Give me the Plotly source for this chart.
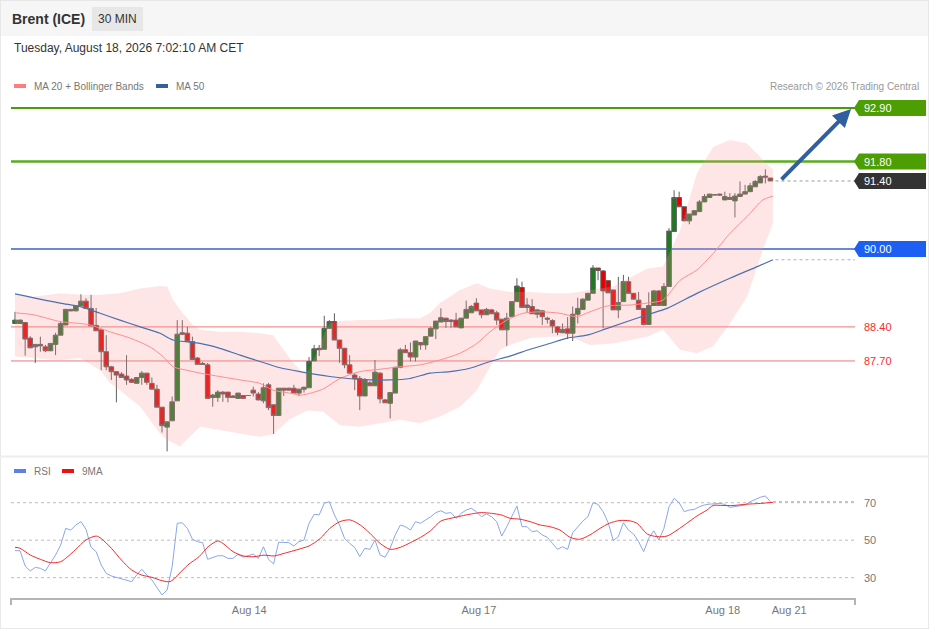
import plotly.graph_objects as go

W, H = 929, 629


def px(x):
    return x / W


def py(y):
    return 1 - y / H


# ---------------- data ----------------
opens = [88.47, 88.47, 88.49, 88.17, 87.99, 88.04, 87.99, 87.91, 88.04, 88.23,
         88.44, 88.76, 88.73, 88.83, 88.93, 88.78, 88.43, 88.34, 87.89, 87.58,
         87.48, 87.43, 87.39, 87.32, 87.24, 87.36, 87.45, 87.24, 87.12, 86.75,
         86.34, 86.47, 86.88, 88.28, 88.27, 88.10, 87.76, 87.65, 87.62, 86.95,
         86.95, 87.06, 87.06, 86.98, 86.93, 86.99, 86.99, 87.10, 87.02, 86.88,
         87.21, 86.80, 86.58, 87.14, 87.14, 87.14, 87.04, 87.12, 87.15, 87.70,
         87.96, 87.94, 88.37, 88.51, 88.13, 87.96, 87.62, 87.41, 87.34, 86.98,
         87.25, 87.19, 87.45, 86.90, 86.83, 87.04, 87.57, 87.93, 87.87, 87.78,
         88.08, 88.03, 88.21, 88.36, 88.50, 88.58, 88.54, 88.54, 88.38, 88.58,
         88.69, 88.89, 88.75, 88.65, 88.75, 88.69, 88.56, 88.34, 88.61, 88.92,
         89.21, 88.85, 88.82, 88.66, 88.73, 88.58, 88.53, 88.40, 88.28, 88.36,
         88.27, 88.66, 88.76, 88.95, 89.09, 89.61, 89.55, 89.35, 89.16, 88.75,
         88.92, 89.33, 89.09, 88.95, 88.78, 88.45, 88.84, 89.14, 88.84, 89.23,
         90.36, 91.06, 90.87, 90.58, 90.70, 90.77, 90.97, 91.06, 91.11, 91.13,
         91.01, 91.06, 90.99, 91.08, 91.13, 91.18, 91.28, 91.36, 91.50, 91.46]

highs = [88.71, 88.55, 88.50, 88.21, 88.05, 88.20, 88.03, 88.07, 88.28, 88.51,
         88.77, 88.77, 88.83, 89.07, 88.99, 89.06, 88.79, 88.34, 88.23, 87.60,
         87.49, 87.47, 87.82, 87.35, 87.37, 87.49, 87.45, 87.36, 87.21, 86.75,
         86.45, 86.97, 88.54, 88.54, 88.40, 88.20, 87.78, 87.68, 87.66, 87.02,
         87.10, 87.08, 87.06, 87.00, 87.04, 87.00, 87.00, 87.17, 87.06, 87.24,
         87.25, 86.80, 87.14, 87.14, 87.15, 87.21, 87.13, 87.17, 87.78, 88.03,
         88.03, 88.63, 88.54, 88.68, 88.13, 87.97, 87.82, 87.45, 87.39, 87.35,
         87.29, 87.72, 87.47, 86.92, 87.06, 87.58, 87.97, 88.03, 88.08, 88.11,
         88.09, 88.21, 88.40, 88.52, 88.78, 88.58, 88.56, 88.69, 88.58, 88.94,
         88.85, 88.99, 88.75, 88.79, 88.77, 88.73, 88.56, 88.69, 88.92, 89.40,
         89.33, 88.99, 88.97, 88.77, 88.75, 88.61, 88.56, 88.42, 88.47, 88.60,
         88.82, 89.00, 88.99, 89.10, 89.67, 89.61, 89.57, 89.36, 89.16, 89.43,
         89.47, 89.43, 89.10, 89.12, 88.79, 89.11, 89.16, 89.16, 89.30, 90.43,
         91.21, 91.18, 90.87, 90.72, 90.80, 91.01, 91.13, 91.13, 91.13, 91.14,
         91.18, 91.15, 91.15, 91.39, 91.32, 91.36, 91.42, 91.52, 91.64, 91.46]

lows = [88.46, 88.46, 87.81, 87.97, 87.66, 87.89, 87.88, 87.90, 87.82, 88.23,
        88.44, 88.72, 88.72, 88.83, 88.78, 88.42, 88.32, 87.51, 87.51, 87.31,
        86.85, 87.35, 87.21, 87.25, 87.24, 87.21, 87.21, 87.12, 86.75, 86.23,
        85.84, 86.47, 86.88, 88.23, 88.10, 87.72, 87.63, 87.62, 86.93, 86.76,
        86.86, 86.86, 86.85, 86.94, 86.93, 86.93, 86.98, 86.97, 86.89, 86.83,
        86.69, 86.20, 86.58, 86.98, 87.10, 87.04, 86.98, 87.05, 87.15, 87.70,
        87.80, 87.94, 88.37, 88.13, 87.66, 87.55, 87.45, 87.10, 86.69, 86.98,
        87.19, 87.19, 86.83, 86.84, 86.52, 87.04, 87.55, 87.87, 87.69, 87.69,
        87.93, 87.93, 88.21, 88.15, 88.50, 88.38, 88.38, 88.40, 88.38, 88.58,
        88.69, 88.73, 88.58, 88.65, 88.67, 88.44, 88.34, 88.01, 88.61, 88.92,
        88.80, 88.69, 88.67, 88.58, 88.44, 88.47, 88.27, 88.23, 88.28, 88.15,
        88.11, 88.47, 88.76, 88.95, 89.09, 89.36, 88.37, 89.10, 88.75, 88.58,
        88.92, 89.09, 88.97, 88.76, 88.43, 88.45, 88.84, 88.84, 88.84, 89.23,
        90.36, 90.87, 90.58, 90.51, 90.70, 90.77, 90.97, 91.06, 91.10, 91.10,
        91.01, 91.01, 90.65, 91.08, 91.13, 91.18, 91.28, 91.36, 91.35, 91.40]

closes = [88.54, 88.54, 88.15, 87.97, 88.04, 88.01, 87.91, 88.06, 88.23, 88.47,
          88.76, 88.73, 88.83, 88.93, 88.78, 88.42, 88.32, 87.89, 87.58, 87.48,
          87.41, 87.36, 87.31, 87.26, 87.36, 87.45, 87.26, 87.12, 86.75, 86.37,
          86.45, 86.86, 88.25, 88.25, 88.10, 87.73, 87.63, 87.63, 86.93, 87.00,
          87.06, 87.02, 86.95, 86.95, 87.04, 86.93, 86.99, 87.04, 86.90, 87.15,
          86.74, 86.58, 87.14, 87.10, 87.10, 87.04, 87.12, 87.16, 87.69, 87.95,
          87.93, 88.37, 88.51, 88.13, 87.96, 87.62, 87.45, 87.34, 86.98, 87.31,
          87.19, 87.47, 86.92, 86.84, 87.05, 87.57, 87.93, 87.87, 87.78, 88.11,
          88.03, 88.20, 88.37, 88.52, 88.59, 88.51, 88.51, 88.40, 88.58, 88.76,
          88.82, 88.73, 88.65, 88.76, 88.67, 88.54, 88.34, 88.58, 88.92, 89.24,
          88.80, 88.80, 88.67, 88.75, 88.61, 88.56, 88.42, 88.29, 88.35, 88.27,
          88.66, 88.78, 88.97, 89.09, 89.61, 89.56, 89.14, 89.10, 88.75, 88.90,
          89.33, 89.09, 88.97, 88.76, 88.45, 88.84, 89.14, 88.84, 89.23, 90.37,
          91.06, 90.87, 90.58, 90.72, 90.79, 90.97, 91.08, 91.13, 91.12, 91.11,
          91.08, 91.02, 91.09, 91.13, 91.18, 91.30, 91.39, 91.49, 91.48, 91.40]

# MA 20 (sampled along the bars)
ma20_idx = [0, 3.6, 8.9, 12.8, 14.8, 18.7, 22.7, 26.6, 29.2, 31.2, 33.9, 36.5, 40.4,
            44.4, 48.3, 50.9, 54.2, 56.2, 57.6, 60.7, 64.1, 68, 72, 75.9, 79.9, 83.8,
            87.8, 91.1, 93.7, 97, 100.2, 103.6, 107.5, 110.8, 113.4, 116.8, 121.3,
            124.7, 127.8, 131.2, 134.5, 137.7, 141, 144.4, 147.5, 149.5]
ma20 = [88.69, 88.65, 88.51, 88.47, 88.44, 88.30, 88.17, 87.99, 87.79, 87.58, 87.51,
        87.45, 87.38, 87.31, 87.24, 87.10, 87.04, 87.00, 87.02, 87.12, 87.34, 87.48,
        87.53, 87.58, 87.62, 87.72, 87.86, 88.06, 88.30, 88.54, 88.68, 88.71, 88.68,
        88.61, 88.71, 88.83, 88.85, 88.89, 88.95, 89.36, 89.57, 89.91, 90.32, 90.67,
        91.01, 91.09]

# MA 50
ma50_idx = [0, 8.9, 12.8, 16.8, 20.7, 24.7, 28.6, 31.2, 36.5, 40.4, 44.4, 48.3, 52.3,
            56.2, 62.1, 68, 73.9, 77.9, 81.9, 85.8, 89.7, 93.7, 97.6, 101.6, 105.5,
            108.9, 112.8, 116.8, 124.7, 128.6, 134.5, 141, 146.4, 149.5]
ma50 = [89.08, 88.89, 88.82, 88.68, 88.54, 88.40, 88.27, 88.13, 88.06, 87.96, 87.82,
        87.69, 87.56, 87.48, 87.38, 87.32, 87.31, 87.34, 87.45, 87.48, 87.55, 87.69,
        87.80, 87.94, 88.06, 88.17, 88.23, 88.37, 88.65, 88.78, 89.09, 89.40, 89.64,
        89.78]

# Bollinger bands
bb_upper_idx = [0, 3.6, 8.9, 12.8, 16.8, 20.7, 24.7, 28.6, 30, 31.2, 33.1, 35.1, 36.5,
                40.4, 44.4, 48.3, 50.9, 52.9, 54.8, 56.8, 58, 59, 60, 61, 62, 64.1, 68,
                72, 75.9, 79.9, 81.9, 83.8, 87.8, 91.1, 93.7, 97.6, 101.6, 105.5, 109.5,
                113.4, 118, 124.7, 127.8, 131.2, 134.5, 137.7, 141, 144.4, 147.5, 149.5]
bb_upper = [89.06, 89.02, 89.09, 89.06, 89.06, 89.09, 89.19, 89.24, 89.23, 88.95, 88.68,
            88.44, 88.34, 88.30, 88.30, 88.27, 88.23, 87.94, 87.67, 87.47, 87.51, 87.76,
            87.97, 88.27, 88.47, 88.52, 88.54, 88.54, 88.58, 88.58, 88.69, 88.89, 89.16,
            89.30, 89.19, 89.12, 89.12, 89.09, 89.09, 89.16, 89.23, 89.60, 89.64, 90.39,
            91.56, 92.10, 92.24, 92.17, 91.83, 91.63]
bb_lower_idx = [0, 3.6, 8.9, 12.8, 16.8, 18.7, 20.7, 24.7, 28.6, 30, 32.5, 36.5, 40.4,
                44.4, 48.3, 50.9, 54.2, 57.6, 60.7, 64.1, 68, 72, 75.9, 79.9, 83.8, 87.8,
                91.1, 93.7, 95.7, 97.6, 101.6, 105.5, 109.5, 113.4, 118, 124.7, 127.8,
                131.2, 134.5, 137.7, 141, 144.4, 147.5, 149.5]
bb_lower = [87.79, 87.76, 87.72, 87.76, 87.51, 87.25, 87.10, 86.76, 86.21, 86.08, 85.94,
            86.35, 86.28, 86.21, 86.14, 86.19, 86.50, 86.68, 86.66, 86.38, 86.35, 86.42,
            86.49, 86.42, 86.56, 86.76, 87.10, 87.58, 87.93, 88.03, 88.17, 88.20, 88.20,
            88.03, 88.06, 88.20, 88.34, 87.93, 87.86, 88.00, 88.47, 89.02, 89.98, 90.53]

# RSI (one value per bar)
rsi = [44.4, 44.4, 36.2, 33.6, 35.5, 35.0, 33.6, 37.7, 42.1, 47.4,
       56.3, 55.4, 58.1, 59.9, 55.8, 46.2, 43.9, 36.8, 32.3, 30.9,
       30.2, 29.7, 28.8, 27.9, 31.4, 34.5, 31.4, 28.8, 24.7, 20.8,
       23.4, 35.9, 59.0, 59.3, 56.3, 50.5, 49.2, 48.7, 39.8, 40.7,
       41.7, 41.7, 40.3, 40.3, 42.5, 40.9, 41.9, 42.6, 40.3, 46.5,
       39.8, 37.3, 48.9, 49.0, 48.7, 46.9, 49.2, 50.1, 59.0, 63.8,
       63.5, 69.7, 70.5, 63.5, 58.1, 51.0, 48.3, 46.2, 41.2, 45.7,
       45.1, 50.1, 42.1, 40.9, 45.7, 52.8, 58.1, 57.2, 55.4, 59.9,
       59.0, 60.8, 62.5, 64.7, 65.7, 64.3, 64.7, 61.7, 64.3, 66.1,
       67.0, 65.2, 62.5, 64.0, 62.5, 59.9, 52.2, 57.2, 62.5, 68.2,
       57.2, 57.2, 54.5, 55.0, 52.8, 51.5, 48.3, 45.1, 46.5, 45.1,
       54.0, 57.2, 60.2, 62.5, 70.0, 69.1, 65.2, 59.3, 49.8, 51.9,
       59.3, 55.4, 53.3, 49.2, 43.9, 51.0, 55.0, 50.1, 56.3, 67.9,
       72.3, 70.0, 65.2, 66.1, 66.4, 67.9, 68.8, 69.2, 69.6, 69.6,
       69.1, 67.5, 67.9, 68.5, 68.8, 70.5, 71.8, 72.9, 73.6, 70.5]

# RSI 9MA (sampled)
rsi_ma_idx = [0, 1, 3, 5, 7, 9, 10, 12, 14, 16, 17, 19, 21, 23, 25, 27, 29, 30.6, 32.1,
              34.1, 36.3, 38.1, 40, 41, 43, 45, 47.1, 49.1, 51.1, 53.1, 55, 57, 58, 60.2,
              62.1, 64.1, 66.1, 68.1, 70, 72, 74, 76, 78, 80, 82, 84, 86, 88, 90, 92, 94,
              96, 97.6, 99.6, 101.6, 103.6, 105.5, 107.5, 109.5, 111.4, 113.4, 115.4,
              117.2, 119.3, 121.3, 122.7, 124.7, 126.6, 128.6, 130.6, 132.5, 134.5,
              136.5, 137.7, 139.6, 141.6, 144.4, 147, 149.5]
rsi_ma = [46.2, 45.7, 42.1, 39.8, 38.0, 38.5, 40.3, 45.1, 50.1, 52.2, 50.9, 45.7, 39.4,
          34.1, 31.4, 30.2, 28.4, 27.9, 31.4, 36.8, 41.2, 46.5, 49.6, 48.3, 43.9, 41.6,
          41.2, 42.0, 41.6, 43.0, 44.4, 46.0, 46.9, 50.9, 56.3, 59.9, 60.8, 58.1, 53.7,
          48.3, 45.1, 46.2, 48.7, 51.5, 55.1, 60.2, 61.7, 62.9, 64.0, 64.7, 64.3, 63.4,
          61.7, 61.2, 59.9, 58.1, 57.2, 55.4, 51.5, 50.5, 52.8, 56.3, 59.0, 60.5, 60.3,
          59.0, 53.3, 51.9, 52.2, 55.4, 59.0, 62.9, 66.1, 68.5, 68.5, 68.5, 69.2, 69.6,
          70.2]

# key levels
level_values = [92.90, 91.80, 91.40, 90.00, 88.40, 87.70]
level_labels = ["92.90", "91.80", "91.40", "90.00", "88.40", "87.70"]
rsi_levels = [70, 50, 30]
date_tick_idx = [46.2, 91.5, 139.6, 152.7]
date_tick_text = ["Aug 14", "Aug 17", "Aug 18", "Aug 21"]

# ---------------- figure ----------------
FONT = "Liberation Sans, Arial, sans-serif"
idx = list(range(len(opens)))
x_min, x_max = -0.79, 165.68

fig = go.Figure()

band_x = bb_upper_idx + bb_lower_idx[::-1]
band_y = bb_upper + bb_lower[::-1]
fig.add_trace(go.Scatter(x=band_x, y=band_y, mode="lines", fill="toself",
                         fillcolor="rgba(250,150,150,0.24)", line=dict(width=0),
                         hoverinfo="skip"))
fig.add_trace(go.Scatter(x=ma20_idx, y=ma20, mode="lines",
                         line=dict(color="#ff8d8d", width=1, shape="spline", smoothing=0.7)))
fig.add_trace(go.Scatter(x=ma50_idx, y=ma50, mode="lines",
                         line=dict(color="#4b70ae", width=1.2, shape="spline", smoothing=0.7)))
fig.add_trace(go.Candlestick(
    x=idx, open=opens, high=highs, low=lows, close=closes,
    increasing=dict(line=dict(color="#5e5e5e", width=1), fillcolor="#1e7a1e"),
    decreasing=dict(line=dict(color="#5e5e5e", width=1), fillcolor="#e80000"),
    whiskerwidth=0, hoverinfo="skip"))

fig.add_trace(go.Scatter(x=idx, y=rsi, mode="lines", xaxis="x", yaxis="y2",
                         line=dict(color="#8aa6ea", width=1)))
fig.add_trace(go.Scatter(x=rsi_ma_idx, y=rsi_ma, mode="lines", xaxis="x", yaxis="y2",
                         line=dict(color="#f22a2a", width=1, shape="spline", smoothing=0.8)))

shapes = []
annotations = []

# header
shapes.append(dict(type="rect", xref="paper", yref="paper", x0=0, x1=1, y0=py(36), y1=1,
                   fillcolor="#f6f6f6", line=dict(width=0), layer="below"))
shapes.append(dict(type="rect", xref="paper", yref="paper", x0=px(92), x1=px(143),
                   y0=py(31), y1=py(7), fillcolor="#e7e7e7", line=dict(width=0)))
shapes.append(dict(type="rect", xref="paper", yref="paper", x0=0, x1=1, y0=0, y1=1,
                   line=dict(color="#e2e2e2", width=1.5)))
shapes.append(dict(type="line", xref="paper", yref="paper", x0=0, x1=1, y0=py(456.5),
                   y1=py(456.5), line=dict(color="#eeeeee", width=2)))

annotations += [
    dict(text="<b>Brent (ICE)</b>", x=px(10), y=py(19), xref="paper", yref="paper",
         xanchor="left", yanchor="middle", showarrow=False,
         font=dict(family=FONT, size=14, color="#333333")),
    dict(text="30 MIN", x=px(117.5), y=py(19), xref="paper", yref="paper",
         xanchor="center", yanchor="middle", showarrow=False,
         font=dict(family=FONT, size=12, color="#333333")),
    dict(text="Tuesday, August 18, 2026 7:02:10 AM CET", x=px(12), y=py(48), xref="paper",
         yref="paper", xanchor="left", yanchor="middle", showarrow=False,
         font=dict(family=FONT, size=12, color="#333333")),
    dict(text="MA 20 + Bollinger Bands", x=px(32), y=py(86), xref="paper", yref="paper",
         xanchor="left", yanchor="middle", showarrow=False,
         font=dict(family=FONT, size=10, color="#777777")),
    dict(text="MA 50", x=px(174), y=py(86), xref="paper", yref="paper",
         xanchor="left", yanchor="middle", showarrow=False,
         font=dict(family=FONT, size=10, color="#777777")),
    dict(text="Research © 2026 Trading Central", x=px(921), y=py(86), xref="paper",
         yref="paper", xanchor="right", yanchor="middle", showarrow=False,
         font=dict(family=FONT, size=10, color="#999999")),
    dict(text="RSI", x=px(32), y=py(471), xref="paper", yref="paper",
         xanchor="left", yanchor="middle", showarrow=False,
         font=dict(family=FONT, size=10, color="#777777")),
    dict(text="9MA", x=px(80), y=py(471), xref="paper", yref="paper",
         xanchor="left", yanchor="middle", showarrow=False,
         font=dict(family=FONT, size=10, color="#777777")),
]
for x0, x1, yy, col in [(14, 26, 86, "#ff7d7d"), (156, 168, 86, "#34609c"),
                        (14, 26, 471, "#5d80e2"), (62, 74, 471, "#ee1111")]:
    shapes.append(dict(type="rect", xref="paper", yref="paper", x0=px(x0), x1=px(x1),
                       y0=py(yy + 2), y1=py(yy - 2), fillcolor=col, line=dict(width=0)))

# level lines
line_styles = {
    "92.90": dict(color="#4c9a08", width=2),
    "91.80": dict(color="#5aab1e", width=2.4),
    "90.00": dict(color="#3a62c4", width=1.4),
    "88.40": dict(color="#f27474", width=1),
    "87.70": dict(color="#e77a7a", width=1),
}
for val, lab in zip(level_values, level_labels):
    if lab in line_styles:
        shapes.append(dict(type="line", xref="x domain", yref="y", x0=0, x1=1, y0=val,
                           y1=val, line=line_styles[lab], layer="below"))

# dotted extensions
last = len(closes) - 1
shapes.append(dict(type="line", xref="x", yref="y", x0=last + 1, x1=x_max,
                   y0=closes[-1], y1=closes[-1],
                   line=dict(color="#999999", width=1, dash="dot")))
shapes.append(dict(type="line", xref="x", yref="y", x0=ma50_idx[-1] + 0.5, x1=x_max,
                   y0=ma50[-1], y1=ma50[-1],
                   line=dict(color="#9fb2d4", width=1, dash="dot")))

# label boxes
box_colors = {"92.90": "#4c9e02", "91.80": "#4c9e02", "91.40": "#333333", "90.00": "#1d5ff2"}
for val, lab in zip(level_values, level_labels):
    if lab in box_colors:
        shapes.append(dict(type="path", xref="paper", yref="y", xsizemode="pixel",
                           ysizemode="pixel", xanchor=px(854), yanchor=val,
                           path="M0,0 L5,8 L72,8 L72,-8 L5,-8 Z",
                           fillcolor=box_colors[lab], line=dict(width=0)))
        annotations.append(dict(text=lab, x=px(862), y=val, xref="paper", yref="y",
                                xanchor="left", yanchor="middle", showarrow=False,
                                font=dict(family=FONT, size=11, color="white")))
    else:
        annotations.append(dict(text=lab, x=px(862), y=val, xref="paper", yref="y",
                                xanchor="left", yanchor="middle", showarrow=False,
                                font=dict(family=FONT, size=11, color="#ff2a2a")))

# RSI grid
for lv in rsi_levels:
    shapes.append(dict(type="line", xref="x domain", yref="y2", x0=0, x1=1, y0=lv, y1=lv,
                       line=dict(color="#bdbdbd", width=1, dash="dot"), layer="below"))
    annotations.append(dict(text=str(lv), x=px(862), y=lv, xref="paper", yref="y2",
                            xanchor="left", yanchor="middle", showarrow=False,
                            font=dict(family=FONT, size=11, color="#777777")))
shapes.append(dict(type="line", xref="x", yref="y2", x0=last + 0.5, x1=x_max,
                   y0=rsi[-1], y1=rsi[-1], line=dict(color="#9db2e6", width=1, dash="dot")))

# axis end ticks
for xd in (0, 1):
    shapes.append(dict(type="line", xref="x domain", yref="paper", x0=xd, x1=xd,
                       y0=py(598), y1=py(605), line=dict(color="#b4b4b4", width=2)))

# target arrow
annotations.append(dict(x=164.9, y=92.88, ax=last + 1.9, ay=closes[-1], xref="x", yref="y",
                        axref="x", ayref="y", text="", showarrow=True, arrowhead=2,
                        arrowsize=0.9, arrowwidth=4, arrowcolor="#2f5f9e", standoff=0))

fig.update_layout(
    width=W, height=H, margin=dict(l=0, r=0, t=0, b=0),
    paper_bgcolor="white", plot_bgcolor="white", showlegend=False,
    hovermode=False, boxgap=0.1, boxgroupgap=0,
    xaxis=dict(domain=[px(11), px(855)], range=[x_min, x_max], anchor="y2",
               showgrid=False, zeroline=False, showline=True, linecolor="#b4b4b4",
               linewidth=2, tickmode="array", tickvals=date_tick_idx,
               ticktext=date_tick_text, ticks="", tickfont=dict(family=FONT, size=11,
                                                                 color="#777777"),
               rangeslider=dict(visible=False), fixedrange=True),
    yaxis=dict(domain=[py(455), py(97)], range=[85.767, 93.126], anchor="x",
               showgrid=False, zeroline=False, showticklabels=False, fixedrange=True),
    yaxis2=dict(domain=[py(598.3), py(480)], range=[19.0, 82.1], anchor="x",
                showgrid=False, zeroline=False, showticklabels=False, fixedrange=True),
    shapes=shapes, annotations=annotations,
)

fig.write_html("out.html", config={"displayModeBar": False, "staticPlot": True},
               post_script="document.body.style.margin='0';document.body.style.overflow='hidden';")
